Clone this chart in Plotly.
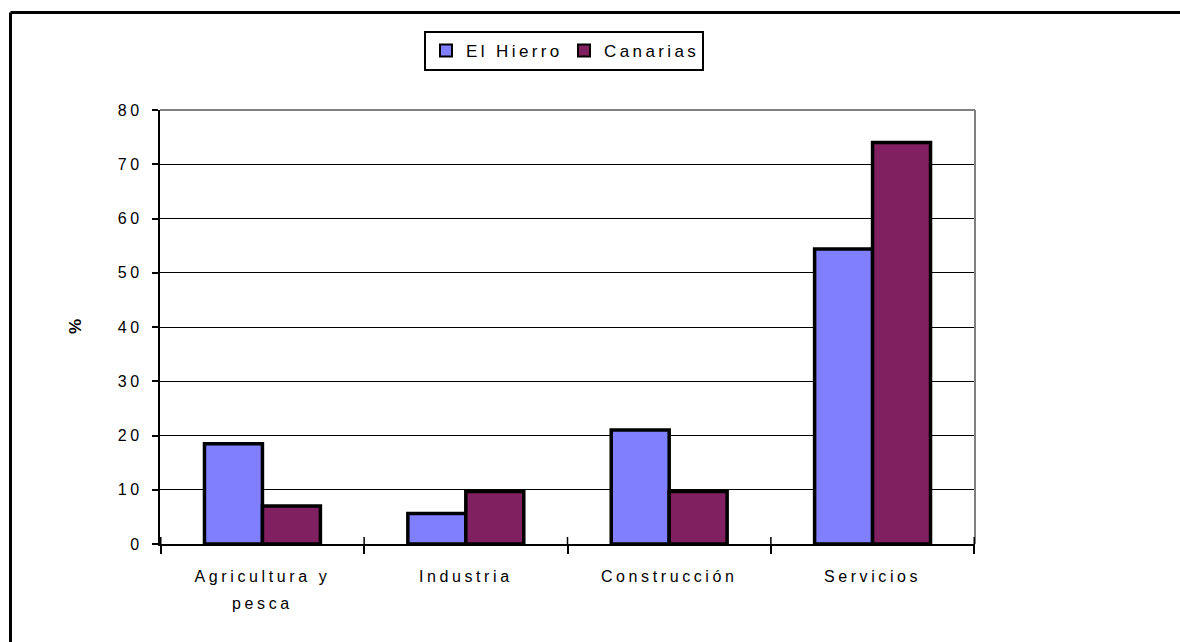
import plotly.graph_objects as go

# Sector shares (%) by island
categories = ["Agricultura y<br>pesca", "Industria", "Construcción", "Servicios"]
el_hierro = [18.5, 5.6, 21.0, 54.4]
canarias = [7.0, 9.7, 9.7, 74.0]
y_ticks = [0, 10, 20, 30, 40, 50, 60, 70, 80]

W, H = 1180, 642
ML, MR, MT, MB = 160, 205, 110, 98
PW, PH = W - ML - MR, H - MT - MB

def px_x(p):
    return (p - ML) / PW

def px_y(p):
    return (H - MB - p) / PH

FONT = "Liberation Sans, Arial, sans-serif"

fig = go.Figure()
fig.add_trace(go.Bar(
    name="El Hierro", x=categories, y=el_hierro,
    marker=dict(color="#8080FF", line=dict(color="#000000", width=3.5)),
))
fig.add_trace(go.Bar(
    name="Canarias", x=categories, y=canarias,
    marker=dict(color="#802060", line=dict(color="#000000", width=3.5)),
))

shapes = [
    # plot-area frame (top and right, grey)
    dict(type="line", xref="paper", yref="paper", x0=0, x1=1, y0=1, y1=1,
         line=dict(color="#808080", width=2)),
    dict(type="line", xref="paper", yref="paper", x0=1, x1=1, y0=0, y1=1,
         line=dict(color="#808080", width=2)),
    # outer chart border
    dict(type="line", xref="paper", yref="paper", x0=px_x(10.5), x1=px_x(1200),
         y0=px_y(12.5), y1=px_y(12.5), line=dict(color="#000000", width=3)),
    dict(type="line", xref="paper", yref="paper", x0=px_x(10.5), x1=px_x(10.5),
         y0=px_y(12.5), y1=px_y(700), line=dict(color="#000000", width=3)),
]
# category-boundary ticks also cross slightly above the x axis
for b in [i - 0.5 for i in range(len(categories) + 1)]:
    shapes.append(dict(type="line", xref="x", yref="paper", x0=b, x1=b,
                       y0=0, y1=7 / PH, line=dict(color="#000000", width=1.5)))

fig.update_layout(
    width=W, height=H,
    margin=dict(l=ML, r=MR, t=MT, b=MB, pad=0),
    paper_bgcolor="#FFFFFF", plot_bgcolor="#FFFFFF",
    font=dict(family=FONT, size=16, color="#000000"),
    barmode="group", bargap=0.43, bargroupgap=0,
    showlegend=True,
    legend=dict(
        orientation="h", xanchor="center", yanchor="top",
        x=px_x(564), y=px_y(31),
        bordercolor="#000000", borderwidth=2, bgcolor="#FFFFFF",
        font=dict(family=FONT, size=17, color="#000000"),
        itemsizing="constant", entrywidth=93, entrywidthmode="pixels",
    ),
    shapes=shapes,
    annotations=[dict(
        text="%", xref="paper", yref="paper", x=px_x(75), y=0.5,
        xanchor="center", yanchor="middle",
        showarrow=False, textangle=-90,
        font=dict(family=FONT, size=17, weight="bold"),
    )],
)

fig.update_xaxes(
    showline=True, linecolor="#000000", linewidth=2,
    ticks="outside", ticklen=8, tickwidth=1.5, tickcolor="#000000",
    tickson="boundaries", showgrid=False,
    tickfont=dict(family=FONT, size=16), ticklabelstandoff=17,
)
fig.update_yaxes(
    range=[0, 80], tickvals=y_ticks, showline=True, linecolor="#000000", linewidth=2,
    ticks="outside", ticklen=6, tickwidth=1.5, tickcolor="#000000",
    showgrid=True, gridcolor="#000000", gridwidth=1, zeroline=False,
    tickfont=dict(family=FONT, size=16), ticklabelstandoff=6,
)

post = """
var st = document.createElement('style');
st.textContent = '.xtick text, .ytick text { letter-spacing: 3.6px; } .legendtext { letter-spacing: 3.4px; }';
document.head.appendChild(st);
document.querySelectorAll('.xtick text tspan.line').forEach(function (t) {
  var dy = parseFloat(t.getAttribute('dy') || '0');
  if (dy > 0) { t.setAttribute('dy', (dy / 1.3 * 1.7) + 'em'); }
});
"""

fig.write_html("out.html", post_script=post)
